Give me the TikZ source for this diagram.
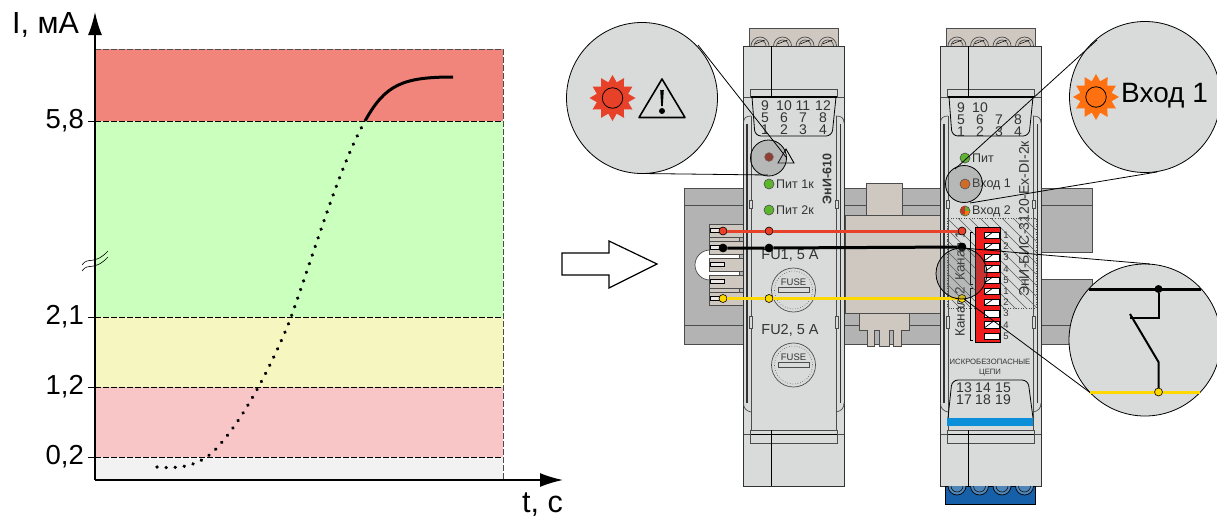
\documentclass[tikz,border=0pt]{standalone}
\usepackage{fontspec}
\setmainfont{Liberation Sans}
\usepackage{tikz}
\usetikzlibrary{calc, arrows.meta, shapes.geometric}

\definecolor{bandred}{HTML}{F2857B}
\definecolor{bandgreen}{HTML}{CAFFBE}
\definecolor{bandyellow}{HTML}{F5F6C0}
\definecolor{bandpink}{HTML}{F8C6C7}
\definecolor{bandgray}{HTML}{F2F2F2}
\definecolor{bodygray}{HTML}{D9DBDB}
\definecolor{railgray}{HTML}{B3B3B3}
\definecolor{beige}{HTML}{CFC8C1}
\definecolor{sigred}{HTML}{E8412A}
\definecolor{sigyellow}{HTML}{FFD800}
\definecolor{ledgreen}{HTML}{5DB52E}
\definecolor{ledorange}{HTML}{FF7010}
\definecolor{dipred}{HTML}{EE1C1C}
\definecolor{barblue}{HTML}{0A8FD8}
\definecolor{termblue}{HTML}{1560A8}
\definecolor{inkgray}{HTML}{333333}

\tikzset{
    every node/.style={inner sep=0pt},
    part/.style={draw=black!70, line width=0.7pt},
    sigdot/.style={circle, draw=black, line width=0.6pt, minimum size=8pt},
    led/.style={circle, draw=black!70, line width=0.6pt, minimum size=10pt},
    sun/.style={star, star points=12, star point ratio=1.42, minimum size=46pt},
    lens/.style={circle, draw=black, line width=0.8pt, fill=bodygray},
    glass/.style={circle, draw=black, line width=0.8pt, fill=black!60, fill opacity=0.3},
    axislabel/.style={font=\fontsize{27.5}{28}\selectfont},
    pinlabel/.style={font=\fontsize{14}{14}\selectfont, text=inkgray},
    panellabel/.style={font=\fontsize{12.5}{13}\selectfont, text=inkgray}
}

\begin{document}
\begin{tikzpicture}[x=1pt, y=-1pt]
    \useasboundingbox (0,0) rectangle (1217,520);

    % chart
    \fill[bandred] (95,49) rectangle (503,121);
    \fill[bandgreen] (95,121) rectangle (503,317);
    \fill[bandyellow] (95,317) rectangle (503,387);
    \fill[bandpink] (95,387) rectangle (503,457);
    \fill[bandgray] (95,457) rectangle (503,480);
    \foreach \lev in {121,317,387,457}{
        \draw[line width=0.9pt] (88,\lev) -- (95,\lev);
        \draw[dash pattern=on 6pt off 2pt, line width=0.9pt] (95,\lev) -- (503,\lev);
    }
    \draw[dash pattern=on 6pt off 2pt, line width=0.5pt, draw=black!70] (95,49) -- (503,49) -- (503,480);

    \coordinate (O) at (95,480);
    \coordinate (Yend) at (95,12);
    \coordinate (Xend) at (563,480);
    \draw[line width=1.5pt, -{Latex[length=23pt,width=14pt]}] (O) -- (Yend);
    \draw[line width=1.5pt, -{Latex[length=23pt,width=14pt]}] (O) -- (Xend);

    \node[font=\fontsize{30.5}{31}\selectfont, anchor=west] (ylab) at (12,25) {I, мА};
    \node[font=\fontsize{30.5}{31}\selectfont, anchor=west] (xlab) at (522,505) {t, с};
    \node[axislabel, anchor=east] (v58) at (84,121) {5,8};
    \node[axislabel, anchor=east] (v21) at (84,317) {2,1};
    \node[axislabel, anchor=east] (v12) at (84,387) {1,2};
    \node[axislabel, anchor=east] (v02) at (84,457) {0,2};

    \draw[line width=0.6pt] (82,271) .. controls (88,262) and (94,272) .. (108,257);
    \draw[line width=0.6pt] (82,265) .. controls (88,256) and (94,266) .. (108,251);

    \draw[line width=3.6pt, line cap=round, dash pattern=on 0.1pt off 9pt]
        (157,467) .. controls (180,469) and (197,466) .. (213,452)
        .. controls (240,425) and (270,370) .. (290,320)
        .. controls (315,250) and (340,165) .. (365,121);
    \draw[line width=3pt] (365,121) .. controls (385,85) and (402,77) .. (453,77);

    % block arrow
    \draw[line width=1.2pt, fill=white] (562,253) -- (609,253) -- (609,241) -- (657,264)
        -- (609,288) -- (609,275) -- (562,275) -- cycle;

    % din rail
    \draw[part, fill=railgray] (684,188) rectangle (1092,344);
    \fill[white] (1042,252.5) rectangle (1094,279);
    \draw[part] (1040,252.5) -- (1092,252.5) (1092,279) -- (1040,279);
    \draw[part] (684,205.5) -- (1092,205.5);
    \draw[part] (684,325) -- (1092,325);
    \draw[part, fill=beige] (866,183) rectangle (902,215);
    \draw[part, fill=beige] (845,215) rectangle (940,313);
    \draw[part, fill=beige] (859,313) -- (909,313) -- (909,330) -- (901,330) -- (901,346) -- (893,346)
        -- (893,330) -- (889,330) -- (889,346) -- (879,346) -- (879,330) -- (874,330)
        -- (874,346) -- (867,346) -- (867,330) -- (859,330) -- cycle;

    \foreach \tab/\gapcol in {224/beige,241/white,258/white,275/beige}{
        \draw[part, fill=\gapcol] (709,\tab+13) rectangle (739,\tab+17);
    }
    \draw[part, fill=white] (710,250) arc[start angle=90, end angle=270, radius=15pt];
    \fill[white] (709,254.4) rectangle (738.6,257.6);
    \fill[white] (709,271.4) rectangle (738.6,274.6);
    \foreach \tab in {224,241,258,275,292}{
        \draw[part, fill=beige] (709,\tab) rectangle (743,\tab+13);
        \draw[line width=0.5pt, fill=beige!40] (710,\tab+4.5) rectangle (724,\tab+8.5);
    }

    % the two modules share their body
    \foreach \modx in {0,197}{
    \begin{scope}[xshift=\modx pt]
        \draw[part, fill=beige] (749,28) rectangle (838,46);
        \foreach \scr in {760,782.5,805,827.5}{
            \draw[part] (\scr-9,46) arc[start angle=180, end angle=0, radius=9pt];
            \draw[part] (\scr-6,46) arc[start angle=180, end angle=0, radius=6pt];
            \draw[line width=0.5pt] (\scr-5,44) -- (\scr+5,40);
        }
        \draw[line width=0.8pt, draw=black!80, fill=bodygray] (743.5,46) -- (844,46) -- (844,486) -- (743.5,486) -- cycle;
        \draw[part] (743.5,123) .. controls (743.5,118) and (746,116) .. (751,116);
        \draw[part] (844,123) .. controls (844,118) and (841.5,116) .. (836,116);
        \draw[part] (743.5,403) .. controls (743.5,408) and (746,411) .. (751,412);
        \draw[part] (844,403) .. controls (844,408) and (841.5,411) .. (836,412);
        \draw[line width=1.8pt, draw=black!80] (747,124) -- (747,403);
        \draw[line width=1.8pt, draw=black!80] (840.5,124) -- (840.5,403);
        \draw[part] (751,116) -- (751,430) (836.5,116) -- (836.5,430);
        \draw[part, fill=bodygray] (749.5,200) rectangle (752.5,208);
        \draw[part, fill=bodygray] (835,200) rectangle (838,208);
        \draw[part, fill=bodygray] (749.5,316) rectangle (752.5,328);
        \draw[part, fill=bodygray] (835,316) rectangle (838,328);
        \draw[part] (750.5,97) -- (750.5,89) -- (837,89) -- (837,97);
        \draw[part] (743.5,97) -- (750.5,97) (837,97) -- (844,97);
        \draw[line width=1.2pt] (750.5,97) -- (837,97);
        \draw[line width=0.8pt] (771,46) -- (771,98);
        \draw[line width=0.8pt, rounded corners=6pt] (752,97) -- (755,136) -- (832,136) -- (836,97);
        \draw[part] (750.5,430) -- (750.5,443) -- (837,443) -- (837,430) -- cycle;
        \draw[line width=1.5pt] (750.5,434.5) -- (837,434.5);
        \draw[part] (743.5,434) -- (750.5,434) (837,434) -- (844,434);
        \draw[line width=0.8pt] (771,430) -- (771,486);
    \end{scope}
    }

    % left module texts
    \foreach \xx/\ta/\tb/\tc in {765/9/5/1,784/10/6/2,803/11/7/3,823/12/8/4}{
        \node[pinlabel] (a\ta) at (\xx,106) {\ta};
        \node[pinlabel] (a\tb) at (\xx,118) {\tb};
        \node[pinlabel] (a\tc) at (\xx,130) {\tc};
    }
    \node[circle, fill=sigred!70!black, draw=black!50, minimum size=9pt] (alarmled) at (769,157) {};
    \draw[line width=0.9pt] (786,149) -- (794,163) -- (778,163) -- cycle;
    \node[led, fill=ledgreen] (pwr1) at (769,184) {};
    \node[led, fill=ledgreen] (pwr2) at (769,210) {};
    \node[panellabel, anchor=west] (pwr1lab) at (776,184) {Пит 1к};
    \node[panellabel, anchor=west] (pwr2lab) at (776,210) {Пит 2к};
    \node[font=\fontsize{12.5}{13}\selectfont\bfseries, rotate=90, text=inkgray] (modA) at (827,179) {ЭнИ-610};
    \node[font=\fontsize{14.5}{15}\selectfont, text=inkgray] (fu1) at (790,255) {FU1, 5 A};
    \node[font=\fontsize{14.5}{15}\selectfont, text=inkgray] (fu2) at (790,330) {FU2, 5 A};
    \foreach \fy/\fn in {290/1,365/2}{
        \node[circle, part, fill=bodygray, minimum size=44pt] (fuse\fn) at (793.5,\fy) {};
        \node[circle, draw=black!70, dotted, line width=0.6pt, minimum size=38pt] (ring\fn) at (793.5,\fy) {};
        \node[font=\fontsize{9.5}{10}\selectfont, text=inkgray] (fuse\fn lab) at (793.5,\fy-8) {FUSE};
        \draw[part, fill=bodygray] (778,\fy-3) rectangle (809.5,\fy+2.5);
    }

    % right module texts
    \foreach \xx/\tb/\tc in {961/5/1,980/6/2,999/7/3,1018/8/4}{
        \node[pinlabel] (b\tb) at (\xx,120) {\tb};
        \node[pinlabel] (b\tc) at (\xx,132) {\tc};
    }
    \node[pinlabel] (b9) at (961,108) {9};
    \node[pinlabel] (b10) at (980,108) {10};
    \node[led, fill=ledgreen] (pwr) at (965,158) {};
    \node[led, fill=ledorange] (in1) at (965,184) {};
    \node[led, fill=ledgreen] (in2) at (965,211) {};
    \fill[sigred!85!black] (in2.center) -- (in2.north) arc[start angle=90, end angle=290, radius=4.6pt] -- cycle;
    \fill[ledorange] (in2.center) -- (965,215.5) arc[start angle=270, end angle=355, radius=4.6pt] -- cycle;
    \node[panellabel, anchor=west] (pwrlab) at (972,158) {Пит};
    \node[panellabel, anchor=west] (in1lab) at (972,184) {Вход 1};
    \node[panellabel, anchor=west] (in2lab) at (972,211) {Вход 2};

    \node[font=\fontsize{7.7}{8}\selectfont, text=inkgray, align=center] (safe) at (990,368) {ИСКРОБЕЗОПАСНЫЕ\\[2pt]ЦЕПИ};
    \draw[line width=0.8pt, rounded corners=6pt] (948,418) -- (952,380) -- (1028,380) -- (1033,418);
    \foreach \xx/\ta/\tb in {964/13/17,983/14/18,1003/15/19}{
        \node[pinlabel] (c\ta) at (\xx,388) {\ta};
        \node[pinlabel] (c\tb) at (\xx,400) {\tb};
    }
    \fill[barblue] (947,418) rectangle (1033,426);
    \draw[line width=0.8pt, fill=termblue] (945.5,486) rectangle (1035,504);
    \foreach \scr in {957,979.5,1002,1024.5}{
        \draw[line width=0.7pt, fill=bodygray!30!termblue] (\scr-9,486) arc[start angle=180, end angle=360, radius=9pt];
        \draw[line width=0.5pt] (\scr-6,486) arc[start angle=180, end angle=360, radius=6pt];
    }

    % hatched zone of the right module
    \begin{scope}
        \clip (947,218) rectangle (1036,308);
        \foreach \hh in {0,11,...,220}
            \draw[line width=0.6pt, draw=black!65] (840+\hh,210) -- (940+\hh,310);
    \end{scope}
    \draw[dotted, line width=0.6pt, draw=black!70] (947,218) rectangle (1036,308);

    % dip switch
    \draw[line width=0.6pt, fill=dipred] (975,227) rectangle (1000,342);
    \foreach \cell in {232,243.2,254.4,265.6,276.8,288,299.2,310.4,321.6,332.8}{
        \draw[line width=0.5pt, fill=white] (984,\cell) rectangle (999,\cell+6.5);
    }
    \foreach \cell in {232,243.2,254.4,265.6,276.8,288,299.2,321.6}
        \draw[line width=0.7pt] (984,\cell+6.5) -- (993,\cell);
    \foreach \ny/\nt [count=\ni] in {235/1,246/2,257/3,269/4,280/5,291/1,302/2,313/3,325/4,336/5}
        \node[font=\fontsize{9.5}{10}\selectfont, text=inkgray] (dip\ni) at (1006,\ny) {\nt};
    \draw[line width=0.6pt] (973,232) -- (970,232) -- (970,284) -- (973,284);
    \draw[line width=0.6pt] (973,288) -- (970,288) -- (970,340) -- (973,340);
    \node[rotate=90, font=\fontsize{13.5}{14}\selectfont, text=inkgray] (chan1) at (960,256) {Канал 1};
    \node[rotate=90, font=\fontsize{13.5}{14}\selectfont, text=inkgray] (chan2) at (960,312) {Канал 2};
    \node[rotate=90, anchor=west, font=\fontsize{14}{14}\selectfont, text=inkgray] (modB) at (1024,297) {ЭнИ-БИС-3120-Ex-DI-2к};

    % signal lines
    \node[sigdot, fill=sigred] (r1) at (723,231) {};
    \node[sigdot, fill=sigred] (r2) at (769,231) {};
    \node[sigdot, fill=sigred] (r3) at (962,231) {};
    \node[sigdot, fill=black] (k1) at (723,248) {};
    \node[sigdot, fill=black] (k2) at (769,248) {};
    \node[sigdot, fill=black] (k3) at (962,247) {};
    \node[sigdot, fill=sigyellow] (y1) at (723,298.5) {};
    \node[sigdot, fill=sigyellow] (y2) at (769,298.5) {};
    \node[sigdot, fill=sigyellow] (y3) at (962,298.5) {};
    \draw[line width=3pt, sigred] (r1) -- (r2) -- (r3);
    \draw[line width=3pt, black] (k1) -- (k2) -- (k3);
    \draw[line width=3pt, sigyellow] (y1) -- (y2) -- (y3);

    % small lenses
    \node[glass, minimum size=36pt] (lensA) at (768.5,158) {};
    \node[glass, minimum size=37pt] (lensB) at (964,184) {};
    \node[glass, minimum size=51pt] (lensC) at (961.5,273.5) {};

    % big lenses and their leader lines
    \node[lens, minimum size=151pt] (bigA) at (642,98) {};
    \node[lens, minimum size=151pt] (bigB) at (1145,97) {};
    \node[lens, minimum size=152pt] (bigC) at (1145,340) {};
    \coordinate (lAa) at (698,45);
    \coordinate (lAb) at (642,173.5);
    \coordinate (lBa) at (1097,40);
    \coordinate (lBb) at (1157,172);
    \coordinate (lCa) at (1150,264);
    \coordinate (lCb) at (1092,394);
    \draw[line width=0.8pt] (lAa) -- (786,157);
    \draw[line width=0.8pt] (lAb) -- (768,175);
    \draw[line width=0.8pt] (lBa) -- (955,169);
    \draw[line width=0.8pt] (lBb) -- (970,203);
    \draw[line width=0.8pt] (lCa) -- (963,248);
    \draw[line width=0.8pt] (lCb) -- (964,299);

    % alarm lens
    \node[sun, fill=sigred] (sunA) at (612.5,98) {};
    \node[circle, draw=black, line width=0.8pt, minimum size=20.5pt] (sunAc) at (612.5,98) {};
    \draw[line width=1.6pt, line join=round] (662,79) -- (685,117.5) -- (639,117.5) -- cycle;
    \fill (660.2,90) -- (663.8,90) -- (662.8,106) -- (661.2,106) -- cycle;
    \fill (662,111) circle[radius=3pt];

    % input lens
    \node[sun, fill=ledorange] (sunB) at (1096,97) {};
    \node[circle, draw=black, line width=0.8pt, minimum size=20.5pt] (sunBc) at (1096,97) {};
    \node[font=\fontsize{28}{28}\selectfont, anchor=west] (in1big) at (1121,96) {Вход 1};

    % contact lens
    \coordinate (cL) at (1089,289);
    \coordinate (cR) at (1201,289);
    \coordinate (yL) at (1090,392);
    \coordinate (yR) at (1200,392);
    \coordinate (cKnee) at (1158.5,318);
    \coordinate (cFix) at (1130,318);
    \coordinate (cBlade) at (1130,314);
    \coordinate (cHinge) at (1158.5,362);
    \draw[line width=3pt] (cL) -- (cR);
    \draw[line width=3pt, sigyellow] (yL) -- (yR);
    \node[circle, fill=black, minimum size=8pt] (cTop) at (1158.5,289) {};
    \draw[line width=2pt] (cTop) -- (cKnee) -- (cFix);
    \draw[line width=2pt] (cBlade) -- (cHinge) -- (1158.5,388);
    \node[sigdot, fill=sigyellow] (cBot) at (1158.5,392) {};
\end{tikzpicture}
\end{document}
